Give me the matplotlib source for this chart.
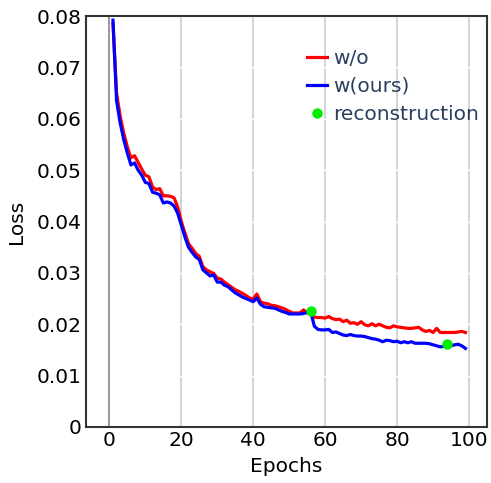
import matplotlib.pyplot as plt

epochs = list(range(1, 100))

loss_wo = [
    0.0785, 0.0650, 0.0605, 0.0572, 0.0545, 0.0524, 0.0528, 0.0515, 0.0502, 0.0490,
    0.0487, 0.0467, 0.0462, 0.0464, 0.0450, 0.0450, 0.0449, 0.0446, 0.0428, 0.0400,
    0.0378, 0.0357, 0.0348, 0.0338, 0.0332, 0.0312, 0.0306, 0.0302, 0.0299, 0.0290,
    0.0288, 0.0282, 0.0277, 0.0272, 0.0267, 0.0264, 0.0260, 0.0256, 0.0251, 0.0249,
    0.0259, 0.0244, 0.0241, 0.0240, 0.0237, 0.0236, 0.0234, 0.0232, 0.0229, 0.0225,
    0.0222, 0.0222, 0.0222, 0.0228, 0.0222, 0.0224, 0.0214, 0.0213, 0.0213, 0.0212,
    0.0215, 0.0211, 0.0209, 0.0210, 0.0205, 0.0208, 0.0202, 0.0203, 0.0200, 0.0205,
    0.0199, 0.0197, 0.0201, 0.0197, 0.0200, 0.0197, 0.0194, 0.0193, 0.0197, 0.0195,
    0.0194, 0.0193, 0.0192, 0.0192, 0.0193, 0.0194, 0.0189, 0.0186, 0.0188, 0.0184,
    0.0192, 0.0184, 0.0184, 0.0184, 0.0184, 0.0184, 0.0185, 0.0186, 0.0184,
]

loss_ours = [
    0.0792, 0.0635, 0.0592, 0.0559, 0.0533, 0.0510, 0.0514, 0.0500, 0.0490, 0.0476,
    0.0474, 0.0457, 0.0455, 0.0452, 0.0436, 0.0438, 0.0436, 0.0430, 0.0416, 0.0393,
    0.0370, 0.0350, 0.0340, 0.0331, 0.0326, 0.0306, 0.0300, 0.0294, 0.0296, 0.0282,
    0.0282, 0.0276, 0.0273, 0.0267, 0.0261, 0.0257, 0.0253, 0.0250, 0.0247, 0.0244,
    0.0251, 0.0239, 0.0234, 0.0233, 0.0232, 0.0231, 0.0228, 0.0225, 0.0223, 0.0220,
    0.0220, 0.0220, 0.0220, 0.0221, 0.0223, 0.0224, 0.0196, 0.0190, 0.0189, 0.0189,
    0.0190, 0.0184, 0.0185, 0.0182, 0.0179, 0.0178, 0.0180, 0.0178, 0.0177, 0.0177,
    0.0176, 0.0174, 0.0172, 0.0171, 0.0169, 0.0166, 0.0169, 0.0168, 0.0166, 0.0167,
    0.0164, 0.0166, 0.0164, 0.0166, 0.0163, 0.0163, 0.0163, 0.0163, 0.0162, 0.0160,
    0.0158, 0.0156, 0.0157, 0.0160, 0.0158, 0.0160, 0.0161, 0.0158, 0.0153,
]

recon_epochs = [56, 94]
recon_loss = [0.0226, 0.0161]

y_ticks = [0, 0.01, 0.02, 0.03, 0.04, 0.05, 0.06, 0.07, 0.08]
y_labels = ["0", "0.01", "0.02", "0.03", "0.04", "0.05", "0.06", "0.07", "0.08"]
x_ticks = [0, 20, 40, 60, 80, 100]

plt.rcParams["font.family"] = ["DejaVu Sans"]
plt.rcParams["font.size"] = 14.5

fig = plt.figure(figsize=(4.91, 4.83), dpi=100)
ax = fig.add_axes([86 / 491, 56 / 483, 401 / 491, 411 / 483])

ax.plot(epochs, loss_wo, color="#ff0000", lw=2.3, label="w/o", zorder=3)
ax.plot(epochs, loss_ours, color="#0000ff", lw=2.3, label="w(ours)", zorder=4)
ax.plot(recon_epochs, recon_loss, "o", color="#00ee00", ms=7.5, mec="none",
        label="reconstruction", zorder=5)

ax.set_xlim(-6.5, 105)
ax.set_ylim(0, 0.08)
ax.set_xticks(x_ticks)
ax.set_yticks(y_ticks)
ax.set_yticklabels(y_labels)
ax.tick_params(length=0, pad=3, labelsize=14.5, colors="black")

ax.grid(axis="x", color="#d3d3d3", lw=1.4, zorder=1)
ax.grid(axis="y", color="white", lw=1.0, zorder=2)
ax.axvline(0, color="#999999", lw=1.4, zorder=2)

for s in ax.spines.values():
    s.set_color("#333333")
    s.set_linewidth(1.5)

ax.set_xlabel("Epochs", fontsize=14.5, labelpad=5)
ax.set_ylabel("Loss", fontsize=14.5, labelpad=8)

leg = ax.legend(loc="upper right", bbox_to_anchor=(1.0, 0.94), frameon=False,
                fontsize=14.5, handlelength=1.0, handletextpad=0.3,
                labelspacing=0.45, borderaxespad=0.0)
for t in leg.get_texts():
    t.set_color("#2a3f5f")

fig.savefig("out.png", dpi=100)
